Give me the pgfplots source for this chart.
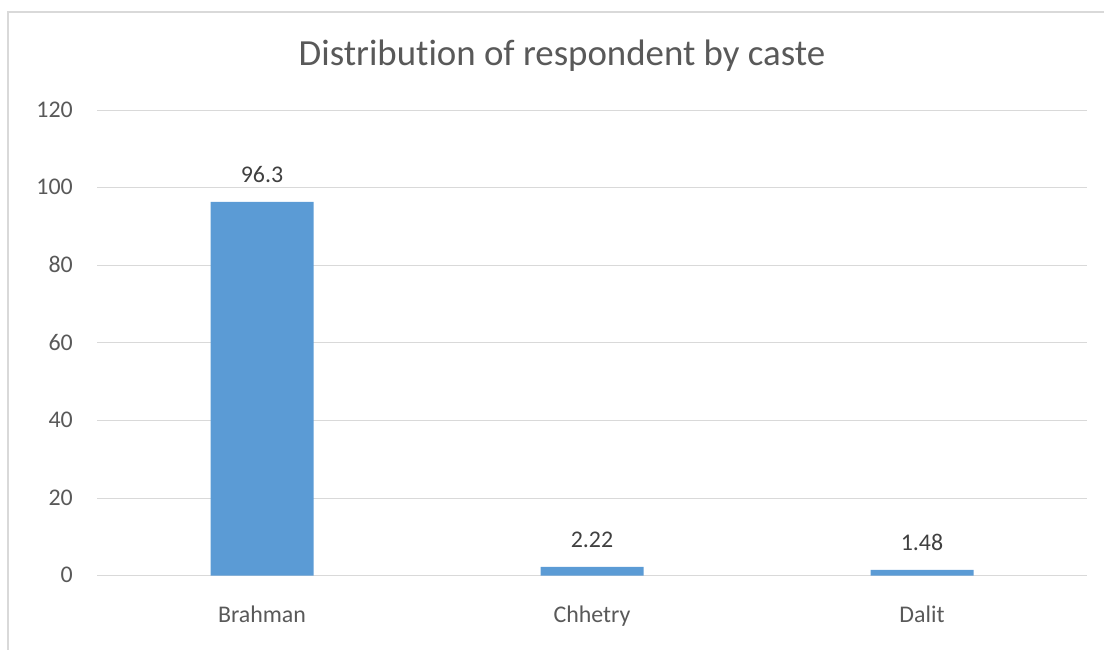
\documentclass[border=0pt]{standalone}
\usepackage{pgfplots}
\pgfplotsset{compat=1.18}
\usepackage{fontspec}
\setmainfont{Carlito}[Ligatures=NoCommon]
\definecolor{barblue}{HTML}{5B9BD5}
\definecolor{gridgray}{HTML}{D9D9D9}
\definecolor{ticktext}{HTML}{595959}
\definecolor{valtext}{HTML}{404040}
\begin{document}
\begin{tikzpicture}[x=1bp,y=1bp]
\useasboundingbox (0bp,0bp) rectangle (1104bp,650bp);
% chart frame (left and top edges)
\draw[gridgray, line width=1.5bp] (8bp,0bp) -- (8bp,638bp) -- (1104bp,638bp);
% chart title
\node[anchor=base, text=ticktext, font=\fontsize{37}{37}\selectfont, inner sep=0pt] at (562bp,584bp) {Distribution of respondent by caste};
\begin{axis}[
  at={(97bp,74.4bp)}, anchor=south west,
  scale only axis, width=990bp, height=465.6bp,
  xmin=-0.5, xmax=2.5, ymin=0, ymax=120,
  xtick={0,1,2}, xticklabels={Brahman,Chhetry,Dalit},
  ytick={0,20,...,120},
  axis line style={draw=none},
  major tick length=0pt,
  ymajorgrids, grid style={gridgray, line width=0.9bp},
  xticklabel style={anchor=base, yshift=-47bp, inner sep=0pt, text=ticktext, font=\fontsize{24}{24}\selectfont},
  yticklabel style={anchor=base east, yshift=-7.3bp, xshift=-24bp, inner sep=0pt, text=ticktext, font=\fontsize{24}{24}\selectfont},
  /pgf/number format/assume math mode=true,
  ybar, bar width=103bp, bar shift=0pt,
  point meta=explicit symbolic,
  nodes near coords,
  every node near coord/.append style={anchor=base, yshift=19bp, inner sep=0pt, text=valtext, font=\fontsize{24}{24}\selectfont},
  clip=false,
]
\addplot[fill=barblue, draw=none] coordinates {(0,96.3) [96.3] (1,2.22) [2.22] (2,1.48) [1.48]};
\end{axis}
\end{tikzpicture}
\end{document}
